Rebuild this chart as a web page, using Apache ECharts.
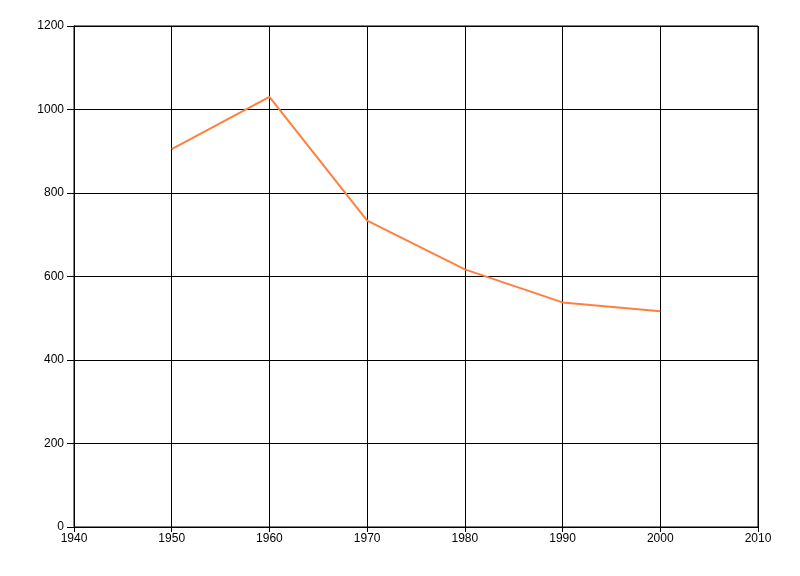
<!DOCTYPE html>
<html><head><meta charset="utf-8">
<script src="https://cdn.jsdelivr.net/npm/echarts@6/dist/echarts.min.js"></script>
<style>html,body{margin:0;padding:0;background:#fff}#c{width:800px;height:576px}</style>
</head><body><div id="c"></div>
<script>
const years = [1950, 1960, 1970, 1980, 1990, 2000];
const values = [905, 1030, 734, 617, 538, 517];
const chart = echarts.init(document.getElementById('c'), null, {renderer: 'canvas'});
const lbl = {color: '#000', fontFamily: 'Liberation Sans, Arial, sans-serif', fontSize: 12, formatter: v => String(v)};
const common = {
  axisLine: {show: true, lineStyle: {color: '#000', width: 1}},
  splitLine: {show: true, lineStyle: {color: '#000', width: 1}}
};
chart.setOption({
  animation: false,
  grid: {left: 74, right: 42, top: 26, bottom: 49, show: true, borderColor: '#000', borderWidth: 1},
  xAxis: Object.assign({type: 'value', min: 1940, max: 2010, interval: 10}, common, {
    axisTick: {show: true, length: 5, lineStyle: {color: '#000'}},
    axisLabel: Object.assign({}, lbl, {margin: 6})
  }),
  yAxis: Object.assign({type: 'value', min: 0, max: 1200, interval: 200}, common, {
    axisTick: {show: true, length: 7, lineStyle: {color: '#000'}},
    axisLabel: Object.assign({}, lbl, {margin: 10})
  }),
  series: [{
    type: 'line',
    data: years.map((y, i) => [y, values[i]]),
    showSymbol: false,
    lineStyle: {color: '#FF7F3F', width: 2},
    itemStyle: {color: '#FF7F3F'}
  }]
});
</script></body></html>
